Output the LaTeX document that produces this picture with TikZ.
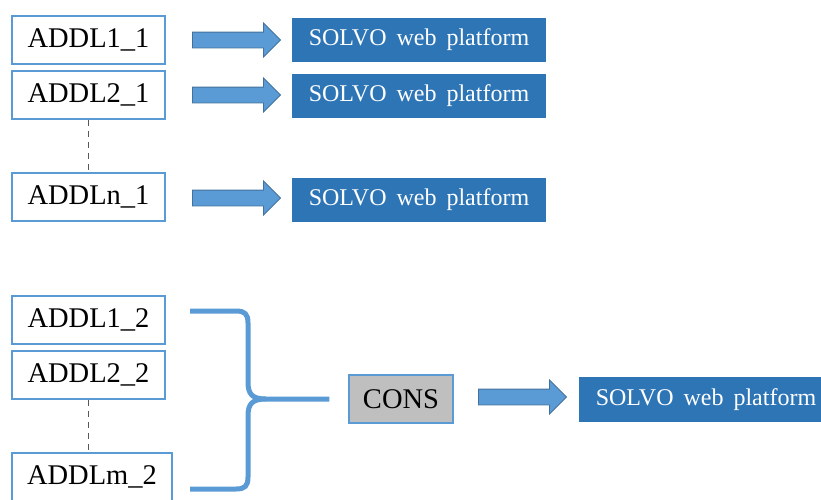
\documentclass[tikz,border=0pt]{standalone}
\usepackage{fontspec}
\setmainfont{Liberation Serif}
\usetikzlibrary{
  shapes.arrows
}
\definecolor{boxline}{HTML}{5B9BD5}
\definecolor{platblue}{HTML}{2E75B6}
\definecolor{arrline}{HTML}{41719C}
\definecolor{consgrey}{HTML}{BFBFBF}
\newcommand\platfont{\fontsize{24}{26}\selectfont\spaceskip=10pt plus 1pt\relax}
\tikzset{
  addl/.style={draw=boxline,line width=1.2pt,fill=white,minimum width=153pt,minimum height=48pt,
    inner sep=0pt,font=\fontsize{28.5}{30}\selectfont},
  plat/.style={fill=platblue,text=white,minimum width=254pt,minimum height=44pt,inner sep=0pt,
    font=\platfont},
  blockarrow/.style={single arrow,fill=boxline,draw=arrline,line width=0.8pt,minimum height=88pt,
    inner xsep=0pt,inner ysep=7.5pt,single arrow head extend=9pt,single arrow head indent=0pt},
  dots/.style={draw=black!65,line width=1.3pt,dash pattern=on 6pt off 5pt},
  brace/.style={draw=boxline,line width=5pt}
}
\begin{document}
\begin{tikzpicture}[x=1pt,y=-1pt]
\useasboundingbox (0,0) rectangle (821,499);
\clip (0,0) rectangle (821,499);
\node[addl] (addl11) at (88.5,40) {ADDL1\_1};
\node[addl] (addl21) at (88.5,95) {ADDL2\_1};
\node[addl] (addln1) at (88.5,197) {ADDLn\_1};
\node[plat] (plat11) at (419,40) {SOLVO web platform};
\node[plat] (plat21) at (419,96) {SOLVO web platform};
\node[plat] (platn1) at (419,200) {SOLVO web platform};
\node[blockarrow] (arr11) at (232.5,40) {};
\node[blockarrow] (arr21) at (232.5,95) {};
\node[blockarrow] (arrn1) at (232.5,198) {};
\draw[dots] (addl21.south) -- (addln1.north);
\node[addl] (addl12) at (88.5,320) {ADDL1\_2};
\node[addl] (addl22) at (88.5,375) {ADDL2\_2};
\node[addl,minimum width=160pt] (addlm2) at (92,477) {ADDLm\_2};
\draw[dots] (addl22.south) -- (addl22.south |- addlm2.north);
\node[addl,fill=consgrey,minimum width=104pt] (cons) at (401,399) {CONS};
\node[blockarrow] (arrcons) at (518.5,397) {};
\node[plat,minimum height=45pt] (platcons) at (706,399.5) {SOLVO web platform};
\coordinate (tip) at ([xshift=-19pt]cons.west);
\draw[brace] (190,311) -- (236,311) .. controls (245,311) and (248,314) .. (248,323) -- (248,382)
  .. controls (248,394) and (252,399) .. (266,399) -- (tip);
\draw[brace] (190,489) -- (236,489) .. controls (245,489) and (248,486) .. (248,477) -- (248,416)
  .. controls (248,404) and (252,399) .. (266,399);
\end{tikzpicture}
\end{document}
